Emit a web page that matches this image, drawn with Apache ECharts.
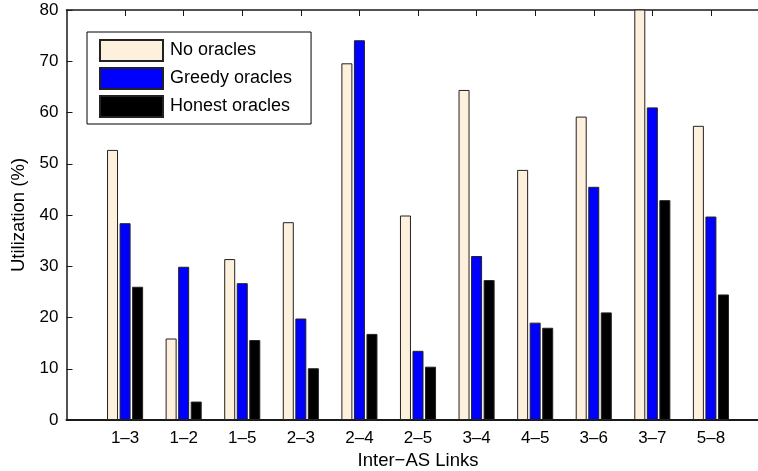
<!DOCTYPE html>
<html>
<head>
<meta charset="utf-8">
<script src="https://cdn.jsdelivr.net/npm/echarts@6/dist/echarts.min.js"></script>
<style>
  html, body { margin: 0; padding: 0; background: #fff; }
  #chart { width: 758px; height: 471px; }
</style>
</head>
<body>
<div id="chart"></div>
<script>
// Inter-AS link utilization under three oracle strategies
var links = ['1–3', '1–2', '1–5', '2–3', '2–4', '2–5', '3–4', '4–5', '3–6', '3–7', '5–8'];
var noOracles     = [52.7, 15.9, 31.4, 38.6, 69.6, 39.9, 64.4, 48.8, 59.2, 82.0, 57.4];
var greedyOracles = [38.4, 29.9, 26.7, 19.8, 74.1, 13.5, 32.0, 19.0, 45.5, 61.0, 39.7];
var honestOracles = [26.0,  3.6, 15.6, 10.1, 16.8, 10.4, 27.3, 18.0, 21.0, 42.9, 24.5];
var yTicks = [0, 10, 20, 30, 40, 50, 60, 70, 80];

// The x range runs from 0 to 12 with links at 1..11, so pad both ends
var cats = [''].concat(links, ['']);
function pad(arr) { return [null].concat(arr, [null]); }

var FONT = 'Liberation Sans, Arial, Helvetica, sans-serif';
var AXIS = '#1a1a1a';

var chart = echarts.init(document.getElementById('chart'), null, { renderer: 'canvas' });

function barSeries(name, data, color) {
  return {
    name: name,
    type: 'bar',
    xAxisIndex: 0,
    data: pad(data),
    barWidth: 11,
    barGap: '14%',
    clip: true,
    itemStyle: { color: color, borderColor: '#222', borderWidth: 1 },
    emphasis: { disabled: true }
  };
}

chart.setOption({
  animation: false,
  backgroundColor: '#fff',
  textStyle: { fontFamily: FONT },
  grid: {
    left: 66.5, top: 10, width: 703, height: 410,
    containLabel: false,
    outerBoundsMode: 'none'
  },
  legend: {
    orient: 'vertical',
    left: 87,
    top: 32,
    padding: [7, 19, 6, 12],
    itemWidth: 63,
    itemHeight: 21,
    itemGap: 5,
    borderColor: '#000',
    borderWidth: 1,
    backgroundColor: '#fff',
    icon: 'rect',
    textStyle: { fontFamily: FONT, fontSize: 18, lineHeight: 21, color: '#000', padding: [0, 0, 0, 2] },
    data: ['No oracles', 'Greedy oracles', 'Honest oracles']
  },
  xAxis: [
    {
      type: 'category',
      data: cats,
      boundaryGap: false,
      position: 'bottom',
      name: 'Inter−AS Links',
      nameLocation: 'middle',
      nameGap: 29,
      nameTextStyle: { fontFamily: FONT, fontSize: 18.5, color: '#000' },
      axisLine: { show: true, lineStyle: { color: AXIS, width: 2 } },
      axisTick: { show: false },
      axisLabel: { interval: 0, margin: 10, fontFamily: FONT, fontSize: 17, color: '#000' },
      splitLine: { show: false }
    },
    {
      type: 'category',
      data: cats,
      boundaryGap: false,
      position: 'top',
      axisLine: { show: true, lineStyle: { color: AXIS, width: 1.5 } },
      axisTick: {
        show: true, inside: true, length: 6,
        interval: function (i) { return i > 0 && i < cats.length - 1; },
        lineStyle: { color: AXIS, width: 1 }
      },
      axisLabel: { show: false },
      splitLine: { show: false }
    }
  ],
  yAxis: {
    type: 'value',
    min: yTicks[0],
    max: yTicks[yTicks.length - 1],
    interval: yTicks[1] - yTicks[0],
    name: 'Utilization (%)',
    nameLocation: 'middle',
    nameGap: 30,
    nameTextStyle: { fontFamily: FONT, fontSize: 18.5, color: '#000' },
    axisLine: { show: true, lineStyle: { color: AXIS, width: 1.5 } },
    axisTick: { show: true, inside: true, length: 6, lineStyle: { color: AXIS, width: 1 } },
    axisLabel: { margin: 8, fontFamily: FONT, fontSize: 17, color: '#000' },
    splitLine: { show: false }
  },
  series: [
    barSeries('No oracles', noOracles, '#FDF0DC'),
    barSeries('Greedy oracles', greedyOracles, '#0000FF'),
    barSeries('Honest oracles', honestOracles, '#000000')
  ]
});
</script>
</body>
</html>
